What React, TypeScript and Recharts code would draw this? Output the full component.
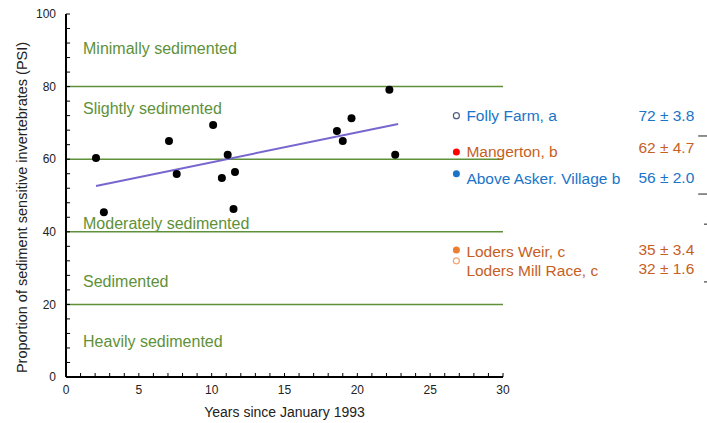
import {
  ScatterChart, Scatter, XAxis, YAxis, ReferenceLine, Label,
} from "recharts";

// survey points: years since Jan 1993 vs PSI
const years = [2.06, 2.6, 7.07, 7.6, 10.1, 10.7, 11.1, 11.6, 11.5, 18.6, 19.0, 19.6, 22.2, 22.6];
const psi = [60.3, 45.4, 65.0, 55.9, 69.4, 54.8, 61.2, 56.5, 46.3, 67.8, 65.0, 71.3, 79.1, 61.2];

// fitted trend
const trendX = [2.06, 22.8];
const trendY = [52.6, 69.7];

// class boundaries and names
const boundaries = [20, 40, 60, 80];
const regionNames = [
  "Minimally sedimented",
  "Slightly sedimented",
  "Moderately sedimented",
  "Sedimented",
  "Heavily sedimented",
];

// site means
const siteLabels = [
  "Folly Farm, a",
  "Mangerton, b",
  "Above Asker. Village b",
  "Loders Weir, c",
  "Loders Mill Race, c",
];
const siteMeans = [72, 62, 56, 35, 32];
const siteSE = [3.8, 4.7, 2.0, 3.4, 1.6];

// stray marks at the right edge
const edgeMarks = [66.4, 50.4, 42.1, 26.2];

const xTicks = Array.from({ length: 31 }, (_, i) => i);
const yTicks = Array.from({ length: 26 }, (_, i) => i * 4);

// layout / style
const FONT = '"Liberation Sans", Arial, sans-serif';
const GREEN = "#5E9139";
const BLUE = "#1A74C8";
const ORANGE = "#C6601F";
const REGION_X = 1.17;
const REGION_Y = [90.6, 74, 42.4, 26.4, 9.9];
const SITE_X = 26.8;
const SITE_STYLE = [
  { fill: "#fff", stroke: "#4F5F7F", text: BLUE },
  { fill: "#FF0000", stroke: "none", text: ORANGE },
  { fill: "#1A74C8", stroke: "none", text: BLUE },
  { fill: "#ED7D31", stroke: "none", text: ORANGE },
  { fill: "#fff", stroke: "#F2A46E", text: ORANGE },
];
const LABEL_DY = [0, 0, 5, 2, 10];
const VALUE_DY = [0, -4, 4, 0, 8];

const points = years.map((x, i) => ({ x, y: psi[i] }));
const regions = regionNames.map((name, i) => ({ x: REGION_X, y: REGION_Y[i], name }));
const sites = siteLabels.map((name, i) => ({
  x: SITE_X, y: siteMeans[i], name, value: `${siteMeans[i]} ± ${siteSE[i].toFixed(1)}`, i,
}));

const Dot = (p: any) => <circle cx={p.cx} cy={p.cy} r={4} fill="#000" />;

const RegionText = (p: any) => (
  <text x={p.cx} y={p.cy} fill={GREEN} fontSize={16} fontFamily={FONT} dominantBaseline="central">
    {p.payload.name}
  </text>
);

const SiteMark = (p: any) => {
  const i = p.payload.i;
  const s = SITE_STYLE[i];
  const open = s.stroke !== "none";
  return (
    <g>
      <circle cx={p.cx} cy={p.cy} r={open ? 3 : 3.5} fill={s.fill} stroke={s.stroke} strokeWidth={1.2} />
      <text x={p.cx + 10} y={p.cy + LABEL_DY[i]} fill={s.text} fontSize={15.5} fontFamily={FONT} dominantBaseline="central">
        {p.payload.name}
      </text>
      <text x={p.cx + 182} y={p.cy + VALUE_DY[i]} fill={s.text} fontSize={15.5} fontFamily={FONT} dominantBaseline="central">
        {p.payload.value}
      </text>
    </g>
  );
};

export default function App() {
  return (
    <div style={{ position: "absolute", left: 0, top: 0, background: "#fff" }}>
      <ScatterChart width={707} height={423} margin={{ top: 14, right: 204, bottom: 0, left: 0 }}>
        <XAxis
          type="number"
          dataKey="x"
          domain={[0, 30]}
          ticks={xTicks}
          interval={0}
          tickFormatter={(v: number) => (v % 5 === 0 ? String(v) : "")}
          tick={{ fill: "#222", fontSize: 12, fontFamily: FONT }}
          tickLine={{ stroke: "#000" }}
          tickSize={-4}
          tickMargin={12}
          axisLine={{ stroke: "#000", strokeWidth: 2 }}
          height={46}
        >
          <Label
            value="Years since January 1993"
            position="insideBottom"
            offset={6}
            style={{ fill: "#222", fontSize: 14, fontFamily: FONT }}
          />
        </XAxis>
        <YAxis
          type="number"
          dataKey="y"
          domain={[0, 100]}
          ticks={yTicks}
          interval={0}
          tickFormatter={(v: number) => (v % 20 === 0 ? String(v) : "")}
          tick={{ fill: "#222", fontSize: 12, fontFamily: FONT }}
          tickLine={{ stroke: "#000" }}
          tickSize={-4}
          tickMargin={14}
          axisLine={{ stroke: "#000", strokeWidth: 2 }}
          width={66}
        >
          <Label
            value="Proportion of sediment sensitive invertebrates (PSI)"
            angle={-90}
            position="center"
            dx={-11}
            dy={12}
            style={{ fill: "#222", fontSize: 14.5, fontFamily: FONT, textAnchor: "middle" }}
          />
        </YAxis>
        {boundaries.map((b) => (
          <ReferenceLine key={b} y={b} stroke={GREEN} strokeWidth={1.5} />
        ))}
        <ReferenceLine
          segment={[{ x: trendX[0], y: trendY[0] }, { x: trendX[1], y: trendY[1] }]}
          stroke="#7866CF"
          strokeWidth={2}
        />
        {edgeMarks.map((m, i) => (
          <ReferenceLine
            key={"e" + i}
            segment={[{ x: i < 2 ? 43.4 : 43.8, y: m }, { x: 44.1, y: m }]}
            ifOverflow="visible"
            stroke="#444"
            strokeWidth={1.2}
          />
        ))}
        <Scatter data={regions} shape={RegionText} isAnimationActive={false} />
        <Scatter data={points} shape={Dot} isAnimationActive={false} />
        <Scatter data={sites} shape={SiteMark} isAnimationActive={false} />
      </ScatterChart>
    </div>
  );
}
